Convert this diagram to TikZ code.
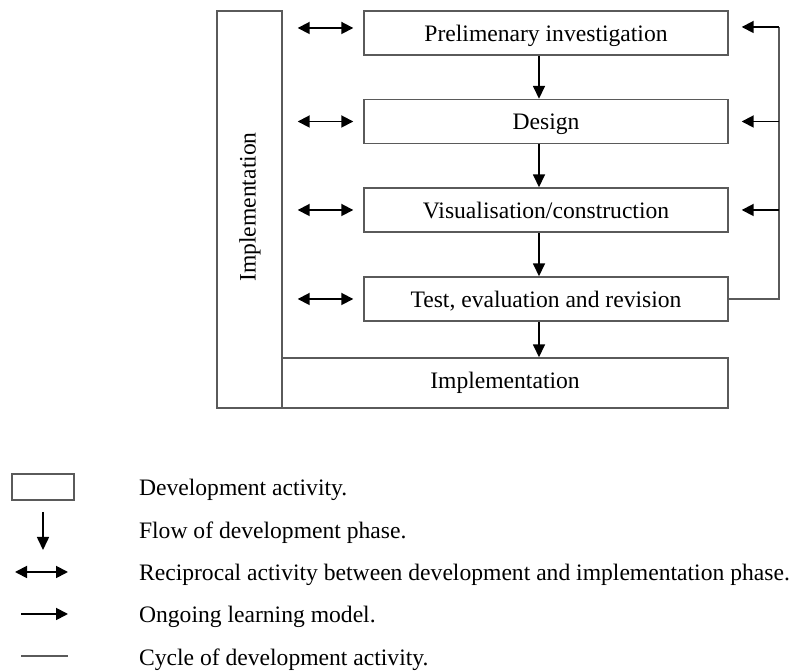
\documentclass[tikz,border=0pt]{standalone}
\usepackage{fontspec}
\setmainfont{Liberation Serif}
\usetikzlibrary{arrows.meta}
\definecolor{boxgray}{RGB}{90,90,90}

\begin{document}
\begin{tikzpicture}[x=0.5pt,y=-0.5pt,font=\fontsize{11.8}{14}\selectfont,
  phase/.style={draw=boxgray,line width=0.7pt,minimum width=182pt,minimum height=22pt,inner sep=0pt,text depth=0pt},
  legtext/.style={anchor=west,text depth=0pt},
  flowarrow/.style={line width=0.8pt,-{Triangle[length=6.5pt,width=6pt]}},
  recip/.style={line width=0.9pt,{Triangle[length=6pt,width=6pt]}-{Triangle[length=6pt,width=6pt]}},
  learn/.style={line width=0.9pt,-{Triangle[length=6pt,width=6pt]}},
  cycle/.style={draw=boxgray,line width=0.7pt}]
\useasboundingbox (0,0) rectangle (798,672);

% Implementation frame
\node[draw=boxgray,line width=0.7pt,minimum width=32.5pt,minimum height=198.5pt,inner sep=0pt] (implv) at (249.5,209.5) {};
\node[rotate=90] at (250,207) {Implementation};
\node[draw=boxgray,line width=0.7pt,minimum width=223pt,minimum height=25pt,inner sep=0pt] (implh) at (505,383) {Implementation};

% Development phases
\node[phase] (pi) at (546,33) {Prelimenary investigation};
\node[phase] (de) at (546,121.5) {Design};
\node[phase] (vc) at (546,210) {Visualisation/construction};
\node[phase] (te) at (546,299) {Test, evaluation and revision};

% Flow between phases
\coordinate (flow) at (539,0);
\draw[flowarrow] (pi.south -| flow) -- (de.north -| flow);
\draw[flowarrow] (de.south -| flow) -- (vc.north -| flow);
\draw[flowarrow] (vc.south -| flow) -- (te.north -| flow);
\draw[flowarrow] (te.south -| flow) -- (implh.north -| flow);

% Reciprocal arrows to implementation
\draw[recip] ([xshift=7.5pt,yshift=2.5pt]implv.east |- pi.west) -- ([xshift=-5pt,yshift=2.5pt]pi.west);
\foreach \p in {de,vc,te} {
    \draw[recip] ([xshift=7.5pt]implv.east |- \p.west) -- ([xshift=-5pt]\p.west);
}

% Learning cycle on the right
\coordinate (loop) at (779,27);
\draw[cycle] (te.east) -| (loop);
\draw[learn] (loop) -- ([xshift=6.5pt,yshift=3pt]pi.east);
\draw[learn] (loop |- de.east) -- ([xshift=6.5pt]de.east);
\draw[learn] (loop |- vc.east) -- ([xshift=6.5pt]vc.east);

% Legend
\node[draw=boxgray,line width=0.9pt,minimum width=31pt,minimum height=13pt,inner sep=0pt] (lgbox) at (43,487) {};
\node[legtext] (lt1) at (132,487) {Development activity.};
\node[legtext] (lt2) at (132,530) {Flow of development phase.};
\node[legtext] (lt3) at (132,572) {Reciprocal activity between development and implementation phase.};
\node[legtext] (lt4) at (132,614) {Ongoing learning model.};
\node[legtext] (lt5) at (132,657) {Cycle of development activity.};
\coordinate (lf1) at (43,512);
\coordinate (lf2) at (43,550);
\coordinate (lr1) at (15,572);
\coordinate (lr2) at (68,572);
\coordinate (ll1) at (21,614);
\coordinate (ll2) at (68,614);
\coordinate (lc1) at (21,656);
\coordinate (lc2) at (68,656);
\draw[flowarrow] (lf1) -- (lf2);
\draw[recip] (lr1) -- (lr2);
\draw[learn] (ll1) -- (ll2);
\draw[cycle] (lc1) -- (lc2);
\end{tikzpicture}
\end{document}
